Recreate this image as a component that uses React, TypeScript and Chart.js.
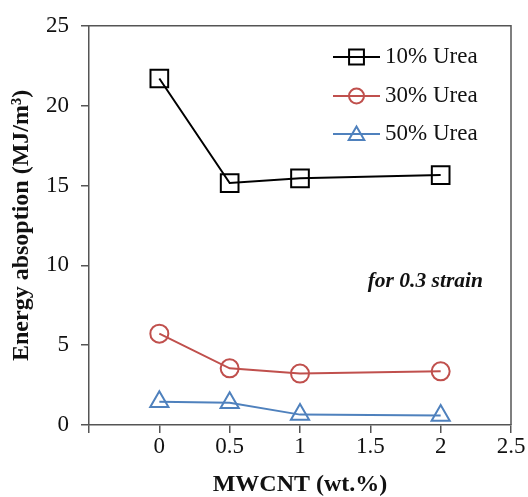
import React, { useEffect, useRef } from "react";
import { Chart, registerables } from "chart.js";

Chart.register(...registerables);

const xValues = [0, 0.5, 1, 2];
const seriesNames = ["10% Urea", "30% Urea", "50% Urea"];
const urea10 = [21.7, 15.15, 15.45, 15.65];
const urea30 = [5.72, 3.55, 3.22, 3.36];
const urea50 = [1.45, 1.4, 0.65, 0.6];
const seriesColors = ["#000000", "#C0504D", "#4F81BD"];
const pointStyles = ["rect", "circle", "triangle"] as const;
const pointRadii = [12.5, 9, 10.5];
const xTitle = "MWCNT (wt.%)";
const yTitle = "Energy absoption (MJ/m³)";
const noteText = "for 0.3 strain";

const FONT = "'Liberation Serif', 'Times New Roman', serif";
const AXIS = "#555555";

function drawMarker(ctx: CanvasRenderingContext2D, style: string, x: number, y: number, r: number) {
  ctx.beginPath();
  if (style === "rect") {
    const s = r * Math.SQRT1_2;
    ctx.rect(x - s, y - s, 2 * s, 2 * s);
  } else if (style === "circle") {
    ctx.arc(x, y, r, 0, Math.PI * 2);
  } else {
    const h = r;
    ctx.moveTo(x, y - h);
    ctx.lineTo(x + h * Math.cos(Math.PI / 6), y + h / 2);
    ctx.lineTo(x - h * Math.cos(Math.PI / 6), y + h / 2);
    ctx.closePath();
  }
  ctx.stroke();
}

const decorPlugin = {
  id: "decor",
  afterDraw(chart: any) {
    const { ctx, chartArea } = chart;
    ctx.save();
    // top and right border
    ctx.strokeStyle = AXIS;
    ctx.lineWidth = 1.5;
    ctx.beginPath();
    ctx.moveTo(chartArea.left, chartArea.top);
    ctx.lineTo(chartArea.right, chartArea.top);
    ctx.lineTo(chartArea.right, chartArea.bottom);
    ctx.stroke();

    // legend
    const legendYs = [57, 96, 134];
    const lineX0 = 333;
    const lineX1 = 380;
    const legendR = [10.5, 7.5, 9];
    seriesNames.forEach((name, i) => {
      const y = legendYs[i];
      ctx.strokeStyle = seriesColors[i];
      ctx.lineWidth = 2;
      ctx.beginPath();
      ctx.moveTo(lineX0, y);
      ctx.lineTo(lineX1, y);
      ctx.stroke();
      const my = pointStyles[i] === "triangle" ? y + 1.5 : y;
      drawMarker(ctx, pointStyles[i], (lineX0 + lineX1) / 2, my, legendR[i]);
      ctx.fillStyle = "#111";
      ctx.font = `23px ${FONT}`;
      ctx.textBaseline = "middle";
      ctx.textAlign = "left";
      ctx.fillText(name, 385, y);
    });

    // note
    ctx.fillStyle = "#111";
    ctx.font = `italic bold 21.5px ${FONT}`;
    ctx.textBaseline = "middle";
    ctx.textAlign = "right";
    ctx.fillText(noteText, 483, 281);
    ctx.restore();
  },
};

export default function App() {
  const ref = useRef<HTMLCanvasElement>(null);
  useEffect(() => {
    if (!ref.current) return;
    const all = [urea10, urea30, urea50];
    const chart = new Chart(ref.current, {
      type: "line",
      data: {
        datasets: all.map((vals, i) => ({
          label: seriesNames[i],
          data: vals.map((v, j) => ({ x: xValues[j], y: v })),
          borderColor: seriesColors[i],
          borderWidth: 2,
          pointStyle: pointStyles[i],
          pointRadius: pointRadii[i],
          pointBorderWidth: 2,
          pointBorderColor: seriesColors[i],
          pointBackgroundColor: "rgba(0,0,0,0)",
          tension: 0,
          fill: false,
        })),
      },
      options: {
        responsive: false,
        animation: false,
        layout: { padding: { top: 24, right: 17, left: 0, bottom: 0 } },
        plugins: { legend: { display: false }, tooltip: { enabled: false } },
        scales: {
          x: {
            type: "linear",
            min: -0.5,
            max: 2.5,
            afterFit: (s: any) => {
              s.height = 72;
            },
            ticks: {
              stepSize: 0.5,
              autoSkip: false,
              maxRotation: 0,
              padding: 0,
              color: "#111",
              font: { family: FONT, size: 23 },
              callback: (v: any) => (Math.abs(Number(v) + 0.5) < 1e-9 ? "" : String(v)),
            },
            grid: { drawOnChartArea: false, drawTicks: true, tickLength: 8, color: AXIS, lineWidth: 1.5 },
            border: { color: AXIS, width: 1.5 },
            title: {
              display: true,
              text: xTitle,
              color: "#111",
              font: { family: FONT, size: 24, weight: "bold", lineHeight: 1 },
              padding: { top: 0, bottom: 0 },
            },
          },
          y: {
            type: "linear",
            min: 0,
            max: 25,
            afterFit: (s: any) => {
              s.width = 89;
            },
            ticks: {
              stepSize: 5,
              padding: 12,
              color: "#111",
              font: { family: FONT, size: 23 },
            },
            grid: { drawOnChartArea: false, drawTicks: true, tickLength: 8, color: AXIS, lineWidth: 1.5 },
            border: { color: AXIS, width: 1.5 },
            title: {
              display: true,
              text: yTitle,
              color: "#111",
              font: { family: FONT, size: 24, weight: "bold", lineHeight: 1 },
              padding: { top: 10, bottom: 0 },
            },
          },
        },
      },
      plugins: [decorPlugin],
    });
    return () => chart.destroy();
  }, []);
  return (
    <div style={{ position: "fixed", left: 0, top: 0, width: 528, height: 497, background: "#fff" }}>
      <canvas ref={ref} width={528} height={497} />
    </div>
  );
}
